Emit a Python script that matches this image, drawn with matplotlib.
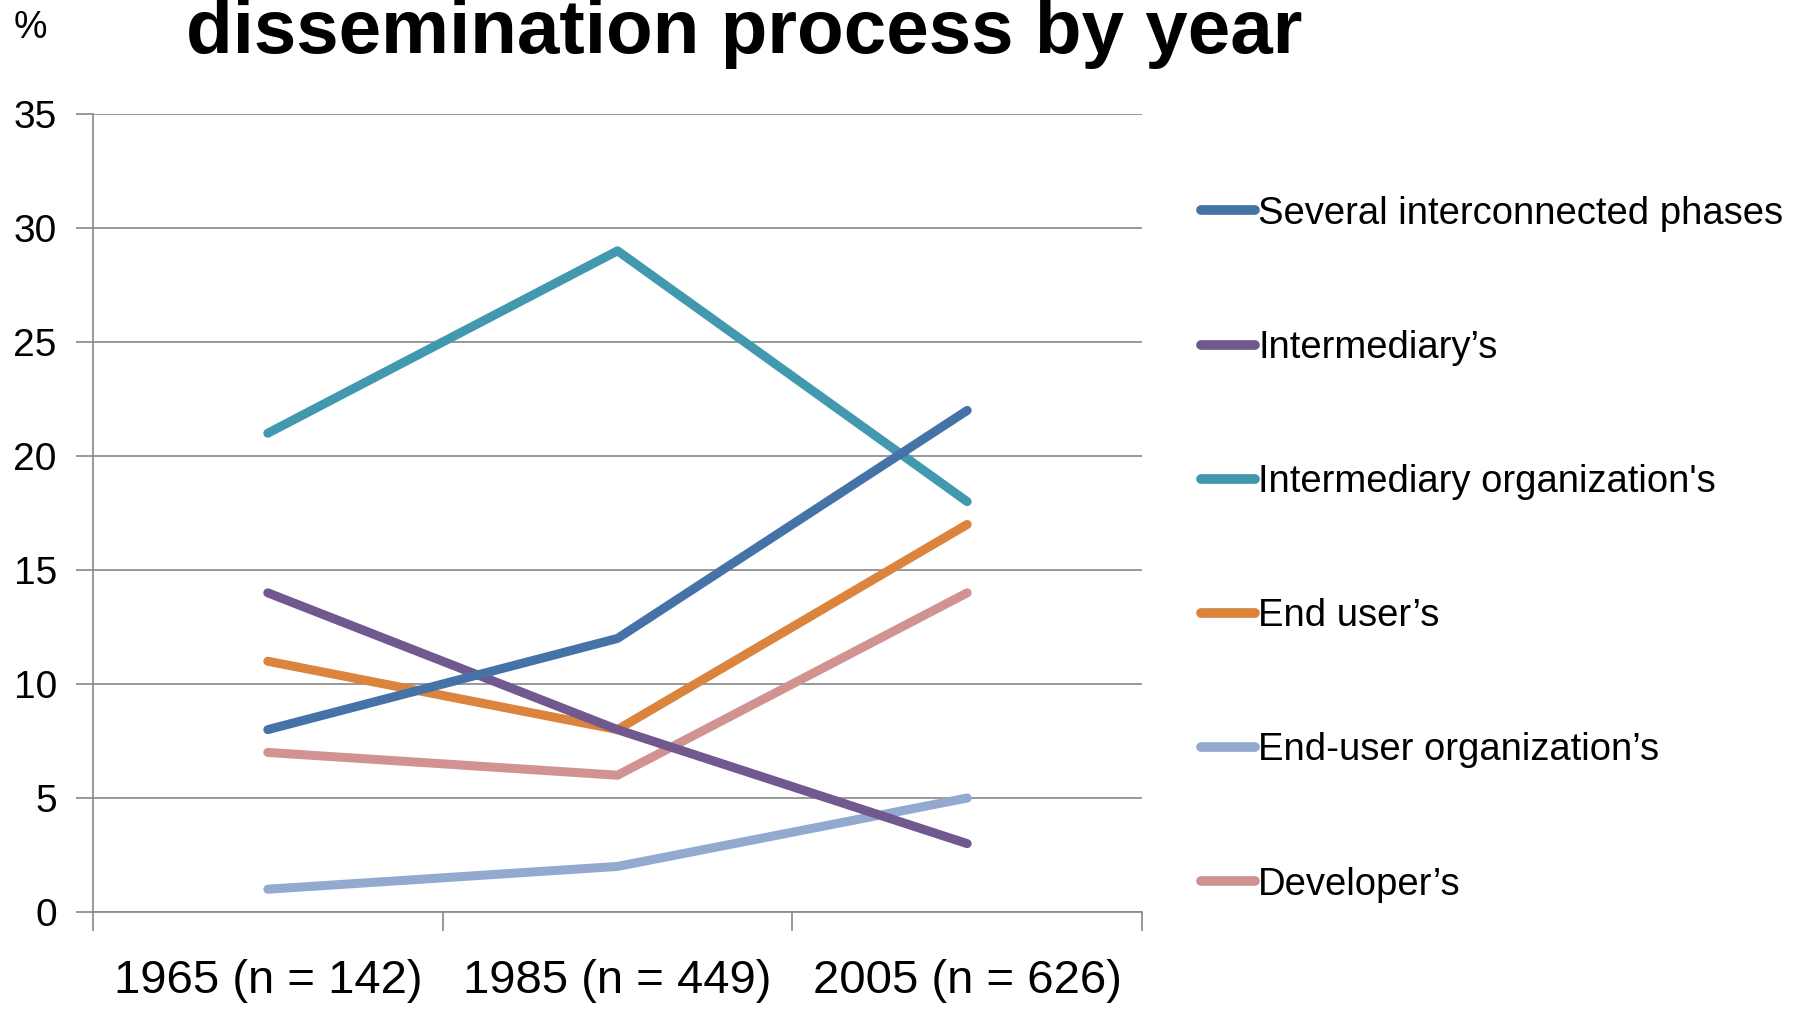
import matplotlib.pyplot as plt
from matplotlib.lines import Line2D

plt.rcParams['font.family'] = ['Liberation Sans', 'DejaVu Sans']

# Share of each dissemination process type (%) per sample year
years = ['1965 (n = 142)', '1985 (n = 449)', '2005 (n = 626)']
several_phases = [8, 12, 22]
intermediary = [14, 8, 3]
intermediary_org = [21, 29, 18]
end_user = [11, 8, 17]
end_user_org = [1, 2, 5]
developer = [7, 6, 14]

labels = ['Several interconnected phases', 'Intermediary\u2019s',
          "Intermediary organization's", 'End user\u2019s',
          'End-user organization\u2019s', 'Developer\u2019s']
series = [several_phases, intermediary, intermediary_org, end_user, end_user_org, developer]
colors = ['#4572A7', '#71588F', '#4198AF', '#DB843D', '#93A9CF', '#D19392']

fig = plt.figure(figsize=(17.94, 10.09), dpi=100)
ax = fig.add_axes([0.0518, 0.0961, 0.5848, 0.7909])

x = range(len(years))
# draw in reverse so the first series ends up on top
for vals, c in zip(series[::-1], colors[::-1]):
    ax.plot(x, vals, color=c, linewidth=6.5, solid_capstyle='round', solid_joinstyle='round')

ax.set_xlim(-0.5, 2.5)
ax.set_ylim(0, 35)
ax.set_yticks(range(0, 36, 5))
ax.set_xticks([0, 1, 2])
ax.set_xticklabels(years, fontsize=34)
ax.set_xticks([-0.5, 0.5, 1.5, 2.5], minor=True)
ax.tick_params(axis='x', which='major', length=0, pad=34)
ax.tick_params(axis='x', which='minor', length=14, color='#888888', width=1.2)
ax.tick_params(axis='y', length=12, color='#888888', width=1.2, labelsize=28, pad=14)
ax.grid(axis='y', color='#888888', linewidth=1.2)
ax.set_axisbelow(True)
for s in ['top', 'right']:
    ax.spines[s].set_visible(False)
for s in ['left', 'bottom']:
    ax.spines[s].set_color('#888888')
    ax.spines[s].set_linewidth(1.2)

fig.text(0.017, 0.972, '%', fontsize=27, ha='center', va='center')
fig.text(0.415, 0.947, 'dissemination process by year', fontsize=55,
         fontweight='bold', ha='center', va='baseline')

handles = [Line2D([], [], color=c, linewidth=7, solid_capstyle='round') for c in colors]
fig.legend(handles, labels, loc='upper left', bbox_to_anchor=(0.6695, 0.806),
           frameon=False, fontsize=27.5, handlelength=1.4, handletextpad=0.1,
           labelspacing=2.57, borderaxespad=0, borderpad=0)

fig.savefig('out.png', dpi=100)
